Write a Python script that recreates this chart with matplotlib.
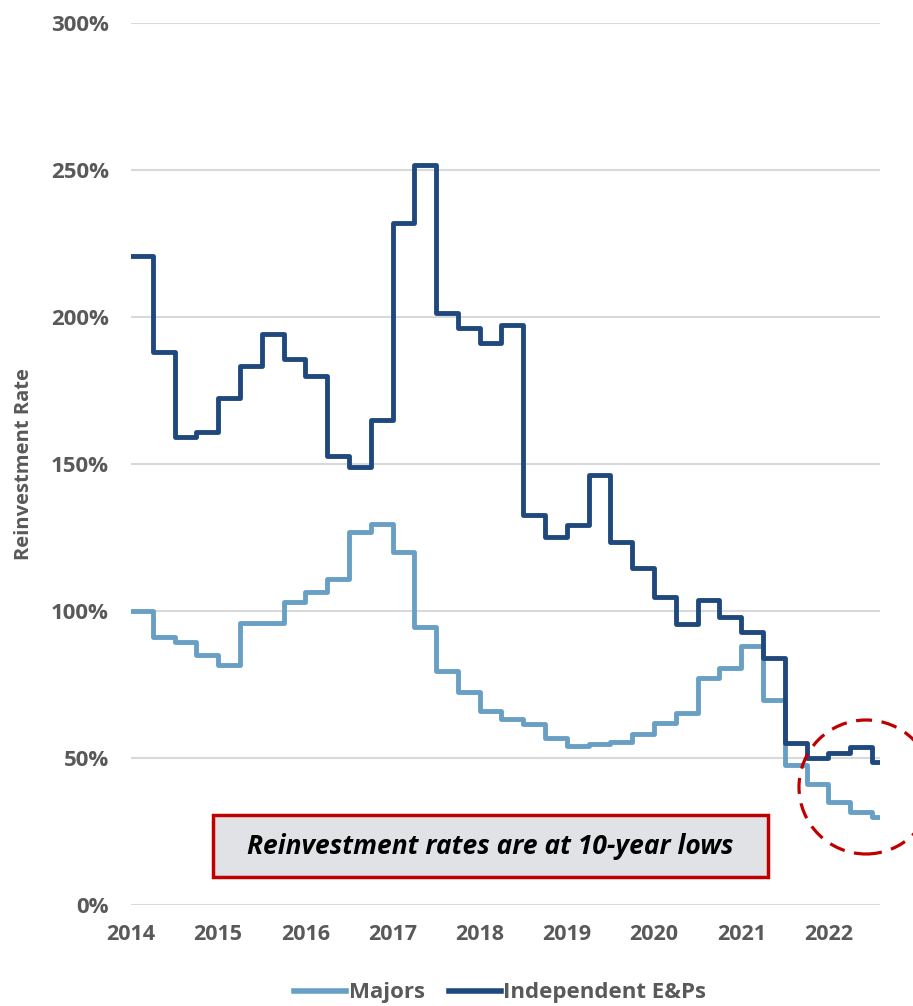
import numpy as np
import matplotlib
matplotlib.use("Agg")
import matplotlib.pyplot as plt
from matplotlib.patches import Rectangle, Circle
from matplotlib.ticker import FuncFormatter

plt.rcParams['font.family'] = ['Open Sans', 'DejaVu Sans']

# Quarterly reinvestment rates (%), 2014 Q1 .. 2022 Q3
majors = [100, 91, 89.5, 85, 81.5, 95.8, 95.8, 103, 106.3, 111, 127, 129.5,
          120.2, 94.7, 79.6, 72.4, 66, 63.1, 61.6, 56.7, 54.2, 54.8, 55.6, 58.2,
          62, 65.4, 77.1, 80.5, 88, 69.7, 47.7, 41.3, 35.1, 31.7, 30]
independents = [220.7, 188, 159.1, 161, 172.3, 183.2, 194.2, 185.7, 180, 152.7, 148.9, 165,
                232, 251.6, 201.4, 196.3, 191.2, 197.4, 132.5, 125.2, 129.1, 146.4, 123.4, 114.7,
                104.6, 95.6, 103.8, 98.1, 93, 84, 55, 50, 51.6, 53.6, 48.5]
years = list(range(2014, 2023))
yticks = [0, 50, 100, 150, 200, 250, 300]

light_blue = '#689FC4'
navy = '#1F497D'
grey_txt = '#595959'
red = '#C00000'

fig = plt.figure(figsize=(9.13, 10.06), dpi=100)
ax = fig.add_axes([131 / 913, 101 / 1006, 749 / 913, 882 / 1006])

n = len(majors)
q = np.arange(n + 1)
ax.step(q, majors + [majors[-1]], where='post', color=light_blue, lw=3.5, label='Majors', zorder=3)
ax.step(q, independents + [independents[-1]], where='post', color=navy, lw=3.5,
        label='Independent E&Ps', zorder=4)

ax.set_ylim(0, 300)
ax.set_xlim(0, n - 1 + 0.37)
ax.set_yticks(yticks)
ax.yaxis.set_major_formatter(FuncFormatter(lambda v, p: f'{v:.0f}%'))
ax.set_xticks([4 * i for i in range(len(years))])
ax.set_xticklabels([str(y) for y in years])
ax.grid(axis='y', color='#D9D9D9', lw=1.5)
ax.set_axisbelow(True)
for s in ax.spines.values():
    s.set_visible(False)
ax.tick_params(length=0, labelcolor=grey_txt)
ax.tick_params(axis='y', pad=16, labelsize=16)
ax.tick_params(axis='x', pad=14, labelsize=15.5)
for lab in ax.get_xticklabels() + ax.get_yticklabels():
    lab.set_fontweight('bold')
ax.set_ylabel('Reinvestment Rate', fontsize=14.5, fontweight='bold', color=grey_txt, labelpad=12)

# callout box
ax.add_patch(Rectangle((0.1095, 0.0317), 0.7405, 0.0703, transform=ax.transAxes,
                       facecolor='#E1E2E5', edgecolor=red, lw=2.5, zorder=5, clip_on=False))
ax.text(0.4795, 0.0668, 'Reinvestment rates are at 10-year lows', transform=ax.transAxes,
        ha='center', va='center', fontsize=19, fontweight='bold', fontstyle='italic',
        color='black', zorder=6)

# dashed circle around latest values
fig.add_artist(Circle((8.66, 2.19), 0.67, transform=fig.dpi_scale_trans, fill=False,
                      edgecolor=red, lw=2.3, linestyle=(0, (5, 3)), zorder=7))

leg = fig.legend(loc='center', bbox_to_anchor=(0.548, 0.013), ncol=2, frameon=False,
                 handlelength=2.35, handletextpad=0.1, columnspacing=1.1,
                 prop={'weight': 'bold', 'size': 16})
for t in leg.get_texts():
    t.set_color(grey_txt)
for h in leg.legend_handles:
    h.set_linewidth(4)

fig.savefig('out.png', dpi=100)
